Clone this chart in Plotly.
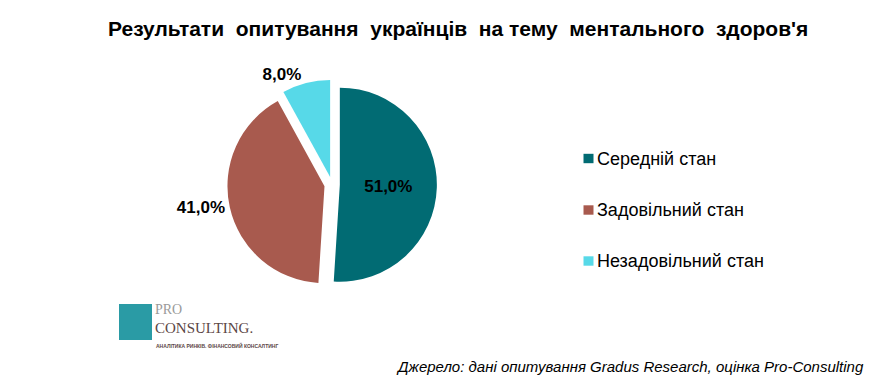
import plotly.graph_objects as go

categories = ["Середній стан", "Задовільний стан", "Незадовільний стан"]
values = [51.0, 41.0, 8.0]
colors = ["#016B73", "#A85A4E", "#57D9E8"]
title_text = "Результати  опитування  українців  на тему  ментального  здоров'я"
source_text = "Джерело: дані опитування Gradus Research, оцінка Pro-Consulting"

W, H = 886, 385
labels_txt = [f"{v:.1f}%".replace(".", ",") for v in values]
FONT = "Liberation Sans, Arial"

fig = go.Figure()
fig.add_trace(go.Pie(
    labels=categories, values=values, sort=False, direction="clockwise", rotation=0,
    marker=dict(colors=colors),
    pull=[0.08, 0.08, 0.08],
    text=labels_txt, textinfo="text",
    textposition=["inside", "outside", "outside"],
    textfont=dict(family=FONT, size=17, color="#000000", weight="bold"),
    insidetextfont=dict(family=FONT, size=17, color="#000000", weight="bold"),
    outsidetextfont=dict(family=FONT, size=17, color="#000000", weight="bold"),
    domain=dict(x=[0.2565, 0.4931], y=[0.2487, 0.7931]),
    showlegend=False, hoverinfo="label+percent",
))

# manual legend
legend_y = [158.5, 210, 261]
for cat, col, yy in zip(categories, colors, legend_y):
    fig.add_shape(type="rect", xref="paper", yref="paper",
                  x0=583.5 / W, x1=593.5 / W, y0=1 - (yy + 4.7) / H, y1=1 - (yy - 4.7) / H,
                  fillcolor=col, line=dict(width=0))
    fig.add_annotation(x=595 / W, y=1 - yy / H, xref="paper", yref="paper",
                       text=cat, showarrow=False, xanchor="left", yanchor="middle",
                       font=dict(family=FONT, size=18, color="#000000"))

# title
fig.add_annotation(x=457.5 / W, y=1 - 28 / H, xref="paper", yref="paper", text=f"<b>{title_text}</b>",
                   showarrow=False, xanchor="center", yanchor="middle",
                   font=dict(family=FONT, size=21, color="#000000"))

# source
fig.add_annotation(x=866 / W, y=1 - 366 / H, xref="paper", yref="paper", text=f"<i>{source_text}</i>",
                   showarrow=False, xanchor="right", yanchor="middle",
                   font=dict(family=FONT, size=15, color="#000000"))

# logo approximation
fig.add_shape(type="rect", xref="paper", yref="paper",
              x0=119 / W, x1=152 / W, y0=1 - 340 / H, y1=1 - 304 / H,
              fillcolor="#2A9BA5", line=dict(width=0))
fig.add_annotation(x=154 / W, y=1 - 309 / H, xref="paper", yref="paper", text="PRO",
                   showarrow=False, xanchor="left", yanchor="middle", borderpad=0,
                   font=dict(family="Liberation Serif", size=14, color="#9A9A9A"))
fig.add_annotation(x=154 / W, y=1 - 328 / H, xref="paper", yref="paper", text="CONSULTING.",
                   showarrow=False, xanchor="left", yanchor="middle", borderpad=0,
                   font=dict(family="Liberation Serif", size=15, color="#5B4646"))
fig.add_annotation(x=155 / W, y=1 - 345 / H, xref="paper", yref="paper",
                   text="<b>АНАЛІТИКА РИНКІВ. ФІНАНСОВИЙ КОНСАЛТИНГ</b>",
                   showarrow=False, xanchor="left", yanchor="middle", borderpad=0,
                   font=dict(family=FONT, size=5, color="#5B4646"))

fig.update_layout(width=W, height=H, margin=dict(l=0, r=0, t=0, b=0),
                  paper_bgcolor="#FFFFFF", plot_bgcolor="#FFFFFF")
fig.write_html("out.html", config={"displayModeBar": False},
               post_script="document.body.style.margin='0';document.body.style.padding='0';")
